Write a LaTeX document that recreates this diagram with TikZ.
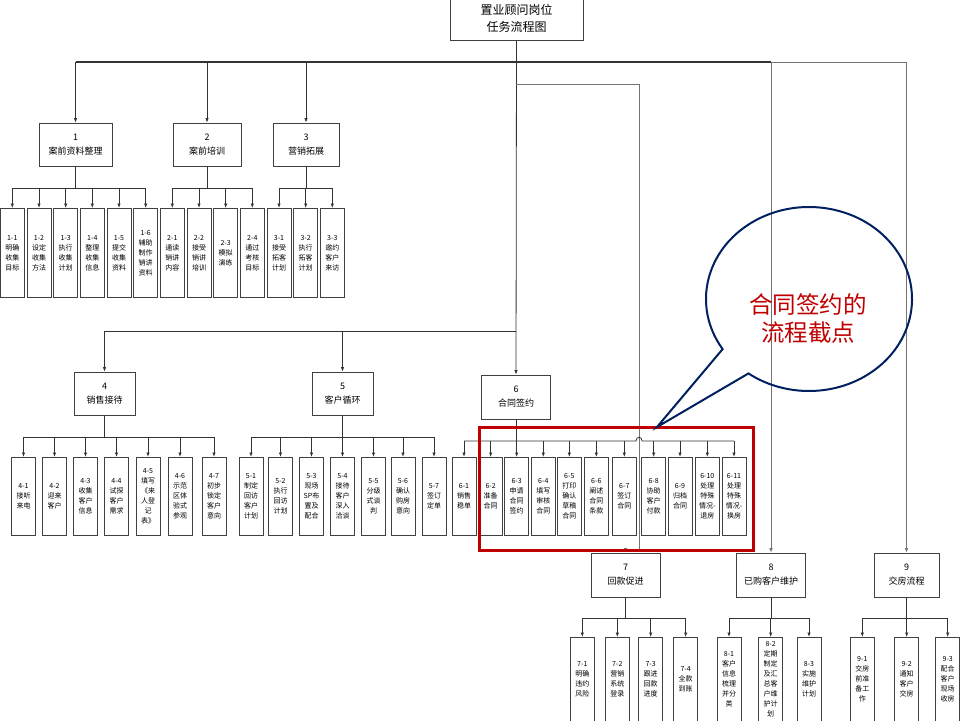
\documentclass[tikz,border=0pt]{standalone}
\usepackage{fontspec}
\setmainfont{Noto Sans CJK SC}
\usetikzlibrary{arrows.meta}
\definecolor{framered}{RGB}{192,0,0}
\definecolor{calloutblue}{RGB}{0,32,96}
\tikzset{
  box/.style={draw=black!75, fill=white, line width=0.8pt, align=center, inner sep=0pt, font=\fontsize{9}{14}\selectfont},
  leaf/.style={draw=black!75, fill=white, line width=0.8pt, align=center, inner sep=0pt, minimum width=24pt, anchor=north, font=\fontsize{7}{10}\selectfont},
  link/.style={draw=black!80, line width=0.8pt},
  arr/.style={link, -{Latex[length=4.5pt,width=3.5pt]}},
  thinarr/.style={draw=black!55, line width=0.7pt, -{Latex[length=4.5pt,width=3.5pt]}},
}
\begin{document}
\begin{tikzpicture}[x=1pt,y=-1pt]
  \useasboundingbox (0,0) rectangle (960,720);
  \clip (0,0) rectangle (960,720);
  % title and first level
  \node[box, minimum width=133pt, minimum height=43pt, font=\fontsize{12}{17}\selectfont] (top) at (516.5,18.5) {置业顾问岗位\\任务流程图};
  \node[box, minimum width=73pt, minimum height=43pt] (b1) at (75.5,144.5) {1\\案前资料整理};
  \node[box, minimum width=68pt, minimum height=43pt] (b2) at (207,144.5) {2\\案前培训};
  \node[box, minimum width=66pt, minimum height=43pt] (b3) at (306,144.5) {3\\营销拓展};
  \node[box, minimum width=61pt, minimum height=43pt] (b4) at (104.5,393.5) {4\\销售接待};
  \node[box, minimum width=61pt, minimum height=43pt] (b5) at (342.5,393.5) {5\\客户循环};
  \node[box, minimum width=69pt, minimum height=44pt] (b6) at (516,397) {6\\合同签约};
  \node[box, minimum width=69pt, minimum height=44pt] (b7) at (625.5,575) {7\\回款促进};
  \node[box, minimum width=69pt, minimum height=44pt] (b8) at (771,575) {8\\已购客户维护};
  \node[box, minimum width=65pt, minimum height=44pt] (b9) at (906.5,575) {9\\交房流程};
  \coordinate (bus1) at (516,62);
  \coordinate (bus2) at (516,84);
  \coordinate (bus3) at (516,331);
  % main connectors
  \draw[arr] (top.south) -- (b6.north);
  \draw[link, line width=1.1pt] (b1.north |- bus1) -- (b8.north |- bus1);
  \draw[draw=black!55, line width=0.8pt] (b8.north |- bus1) -- (b9.north |- bus1);
  \draw[arr] (b1.north |- bus1) -- (b1.north);
  \draw[arr] (b2.north |- bus1) -- (b2.north);
  \draw[arr] (b3.north |- bus1) -- (b3.north);
  \draw[thinarr] (b8.north |- bus1) -- (b8.north);
  \draw[thinarr] (b9.north |- bus1) -- (b9.north);
  \draw[thinarr] (bus2) -| (639,549) -| (b7.north);
  \draw[link] (b4.north |- bus3) -- (bus3);
  \draw[arr] (b4.north |- bus3) -- (b4.north);
  \draw[arr] (b5.north |- bus3) -- (b5.north);
  % leaves of 1, 2, 3
  \draw[link] (b1.south) -- (b1.south |- 0,188); \draw[link] (12.3,188) -- (145.7,188);
  \draw[link] (b2.south) -- (b2.south |- 0,188); \draw[link] (172.3,188) -- (252.3,188);
  \draw[link] (b3.south) -- (b3.south |- 0,188); \draw[link] (279,188) -- (332.3,188);
  \node[leaf, minimum height=89pt] (l11) at (12.3,208) {1-1\\明确\\收集\\目标}; \draw[arr] (l11.north |- 0,188) -- (l11.north);
  \node[leaf, minimum height=89pt] (l12) at (39,208) {1-2\\设定\\收集\\方法}; \draw[arr] (l12.north |- 0,188) -- (l12.north);
  \node[leaf, minimum height=89pt] (l13) at (65.7,208) {1-3\\执行\\收集\\计划}; \draw[arr] (l13.north |- 0,188) -- (l13.north);
  \node[leaf, minimum height=89pt] (l14) at (92.3,208) {1-4\\整理\\收集\\信息}; \draw[arr] (l14.north |- 0,188) -- (l14.north);
  \node[leaf, minimum height=89pt] (l15) at (119,208) {1-5\\提交\\收集\\资料}; \draw[arr] (l15.north |- 0,188) -- (l15.north);
  \node[leaf, minimum height=89pt] (l16) at (145.7,208) {1-6\\辅助\\制作\\销讲\\资料}; \draw[arr] (l16.north |- 0,188) -- (l16.north);
  \node[leaf, minimum height=89pt] (l21) at (172.3,208) {2-1\\通读\\销讲\\内容}; \draw[arr] (l21.north |- 0,188) -- (l21.north);
  \node[leaf, minimum height=89pt] (l22) at (199,208) {2-2\\接受\\销讲\\培训}; \draw[arr] (l22.north |- 0,188) -- (l22.north);
  \node[leaf, minimum height=89pt] (l23) at (225.7,208) {2-3\\模拟\\演练}; \draw[arr] (l23.north |- 0,188) -- (l23.north);
  \node[leaf, minimum height=89pt] (l24) at (252.3,208) {2-4\\通过\\考核\\目标}; \draw[arr] (l24.north |- 0,188) -- (l24.north);
  \node[leaf, minimum height=89pt] (l31) at (279,208) {3-1\\接受\\拓客\\计划}; \draw[arr] (l31.north |- 0,188) -- (l31.north);
  \node[leaf, minimum height=89pt] (l32) at (305.7,208) {3-2\\执行\\拓客\\计划}; \draw[arr] (l32.north |- 0,188) -- (l32.north);
  \node[leaf, minimum height=89pt] (l33) at (332.3,208) {3-3\\邀约\\客户\\来访}; \draw[arr] (l33.north |- 0,188) -- (l33.north);
  % leaves of 4, 5, 6
  \draw[link] (b4.south) -- (b4.south |- 0,437); \draw[link] (23.5,437) -- (214,437);
  \draw[link] (b5.south) -- (b5.south |- 0,437); \draw[link] (251,437) -- (434,437);
  \draw[link] (b6.south) -- (b6.south |- 0,441);
  \draw[link] (464,441) -- (636,441) .. controls (636,436) and (642,436) .. (642,441) -- (734,441);
  \node[leaf, minimum height=78pt] (l41) at (23.5,457) {4-1\\接听\\来电}; \draw[arr] (l41.north |- 0,437) -- (l41.north);
  \node[leaf, minimum height=78pt] (l42) at (54.5,457) {4-2\\迎来\\客户}; \draw[arr] (l42.north |- 0,437) -- (l42.north);
  \node[leaf, minimum height=78pt] (l43) at (85.5,457) {4-3\\收集\\客户\\信息}; \draw[arr] (l43.north |- 0,437) -- (l43.north);
  \node[leaf, minimum height=78pt] (l44) at (116.5,457) {4-4\\试探\\客户\\需求}; \draw[arr] (l44.north |- 0,437) -- (l44.north);
  \node[leaf, minimum height=78pt] (l45) at (148,457) {4-5\\填写\\《来\\人登\\记\\表》}; \draw[arr] (l45.north |- 0,437) -- (l45.north);
  \node[leaf, minimum height=78pt] (l46) at (180,457) {4-6\\示范\\区体\\验式\\参观}; \draw[arr] (l46.north |- 0,437) -- (l46.north);
  \node[leaf, minimum height=78pt] (l47) at (214,457) {4-7\\初步\\锁定\\客户\\意向}; \draw[arr] (l47.north |- 0,437) -- (l47.north);
  \node[leaf, minimum height=78pt] (l51) at (251,457) {5-1\\制定\\回访\\客户\\计划}; \draw[arr] (l51.north |- 0,437) -- (l51.north);
  \node[leaf, minimum height=78pt] (l52) at (280.5,457) {5-2\\执行\\回访\\计划}; \draw[arr] (l52.north |- 0,437) -- (l52.north);
  \node[leaf, minimum height=78pt] (l53) at (311.5,457) {5-3\\现场\\SP布\\置及\\配合}; \draw[arr] (l53.north |- 0,437) -- (l53.north);
  \node[leaf, minimum height=78pt] (l54) at (342.5,457) {5-4\\接待\\客户\\深入\\洽谈}; \draw[arr] (l54.north |- 0,437) -- (l54.north);
  \node[leaf, minimum height=78pt] (l55) at (373.5,457) {5-5\\分级\\式谈\\判}; \draw[arr] (l55.north |- 0,437) -- (l55.north);
  \node[leaf, minimum height=78pt] (l56) at (403,457) {5-6\\确认\\购房\\意向}; \draw[arr] (l56.north |- 0,437) -- (l56.north);
  \node[leaf, minimum height=78pt] (l57) at (434,457) {5-7\\签订\\定单}; \draw[arr] (l57.north |- 0,437) -- (l57.north);
  \node[leaf, minimum height=78pt] (l61) at (464,457) {6-1\\销售\\稳单}; \draw[arr] (l61.north |- 0,441) -- (l61.north);
  \node[leaf, minimum height=78pt] (l62) at (490.7,457) {6-2\\准备\\合同}; \draw[arr] (l62.north |- 0,441) -- (l62.north);
  \node[leaf, minimum height=78pt] (l63) at (516.7,457) {6-3\\申请\\合同\\签约}; \draw[arr] (l63.north |- 0,441) -- (l63.north);
  \node[leaf, minimum height=78pt] (l64) at (543.3,457) {6-4\\填写\\审核\\合同}; \draw[arr] (l64.north |- 0,441) -- (l64.north);
  \node[leaf, minimum height=78pt] (l65) at (569.3,457) {6-5\\打印\\确认\\草稿\\合同}; \draw[arr] (l65.north |- 0,441) -- (l65.north);
  \node[leaf, minimum height=78pt] (l66) at (596.3,457) {6-6\\阐述\\合同\\条款}; \draw[arr] (l66.north |- 0,441) -- (l66.north);
  \node[leaf, minimum height=78pt] (l67) at (624.3,457) {6-7\\签订\\合同}; \draw[arr] (l67.north |- 0,441) -- (l67.north);
  \node[leaf, minimum height=78pt] (l68) at (653.7,457) {6-8\\协助\\客户\\付款}; \draw[arr] (l68.north |- 0,441) -- (l68.north);
  \node[leaf, minimum height=78pt] (l69) at (680,457) {6-9\\归档\\合同}; \draw[arr] (l69.north |- 0,441) -- (l69.north);
  \node[leaf, minimum height=78pt] (l610) at (707.3,457) {6-10\\处理\\特殊\\情况-\\退房}; \draw[arr] (l610.north |- 0,441) -- (l610.north);
  \node[leaf, minimum height=78pt] (l611) at (734,457) {6-11\\处理\\特殊\\情况-\\换房}; \draw[arr] (l611.north |- 0,441) -- (l611.north);
  % leaves of 7, 8, 9
  \draw[link] (b7.south) -- (b7.south |- 0,618); \draw[link] (582.3,618) -- (685.7,618);
  \draw[link] (b8.south) -- (b8.south |- 0,618); \draw[link] (729,618) -- (809,618);
  \draw[link] (b9.south) -- (b9.south |- 0,618); \draw[link] (862.3,618) -- (947.7,618);
  \node[leaf, minimum height=84pt] (l71) at (582.3,637) {7-1\\明确\\违约\\风险}; \draw[arr] (l71.north |- 0,618) -- (l71.north);
  \node[leaf, minimum height=84pt] (l72) at (617.3,637) {7-2\\营销\\系统\\登录}; \draw[arr] (l72.north |- 0,618) -- (l72.north);
  \node[leaf, minimum height=84pt] (l73) at (650.7,637) {7-3\\跟进\\回款\\进度}; \draw[arr] (l73.north |- 0,618) -- (l73.north);
  \node[leaf, minimum height=84pt] (l74) at (685.7,637) {7-4\\全款\\到账}; \draw[arr] (l74.north |- 0,618) -- (l74.north);
  \node[leaf, minimum height=84pt] (l81) at (729,637) {8-1\\客户\\信息\\梳理\\并分\\类}; \draw[arr] (l81.north |- 0,618) -- (l81.north);
  \node[leaf, minimum height=84pt] (l82) at (770.7,637) {8-2\\定期\\制定\\及汇\\总客\\户维\\护计\\划}; \draw[arr] (l82.north |- 0,618) -- (l82.north);
  \node[leaf, minimum height=84pt] (l83) at (809,637) {8-3\\实施\\维护\\计划}; \draw[arr] (l83.north |- 0,618) -- (l83.north);
  \node[leaf, minimum height=84pt] (l91) at (862.3,637) {9-1\\交房\\前准\\备工\\作}; \draw[arr] (l91.north |- 0,618) -- (l91.north);
  \node[leaf, minimum height=84pt] (l92) at (906.7,637) {9-2\\通知\\客户\\交房}; \draw[arr] (l92.north |- 0,618) -- (l92.north);
  \node[leaf, minimum height=84pt] (l93) at (947.7,637) {9-3\\配合\\客户\\现场\\收房}; \draw[arr] (l93.north |- 0,618) -- (l93.north);
  % highlight and callout
  \draw[framered, line width=3pt] (479.3,427.3) rectangle (753.3,550);
  \coordinate (cc) at (809,299);
  \coordinate (tip) at (657,427);
  \draw[calloutblue, line width=2pt, line join=miter] (tip) -- ([shift={(147:103 and 92)}]cc) arc[start angle=147, end angle=486, x radius=103, y radius=92] -- cycle;
  \node[framered, align=center, font=\fontsize{23.5}{28}\selectfont] (note) at (808,319) {合同签约的\\流程截点};
\end{tikzpicture}
\end{document}
